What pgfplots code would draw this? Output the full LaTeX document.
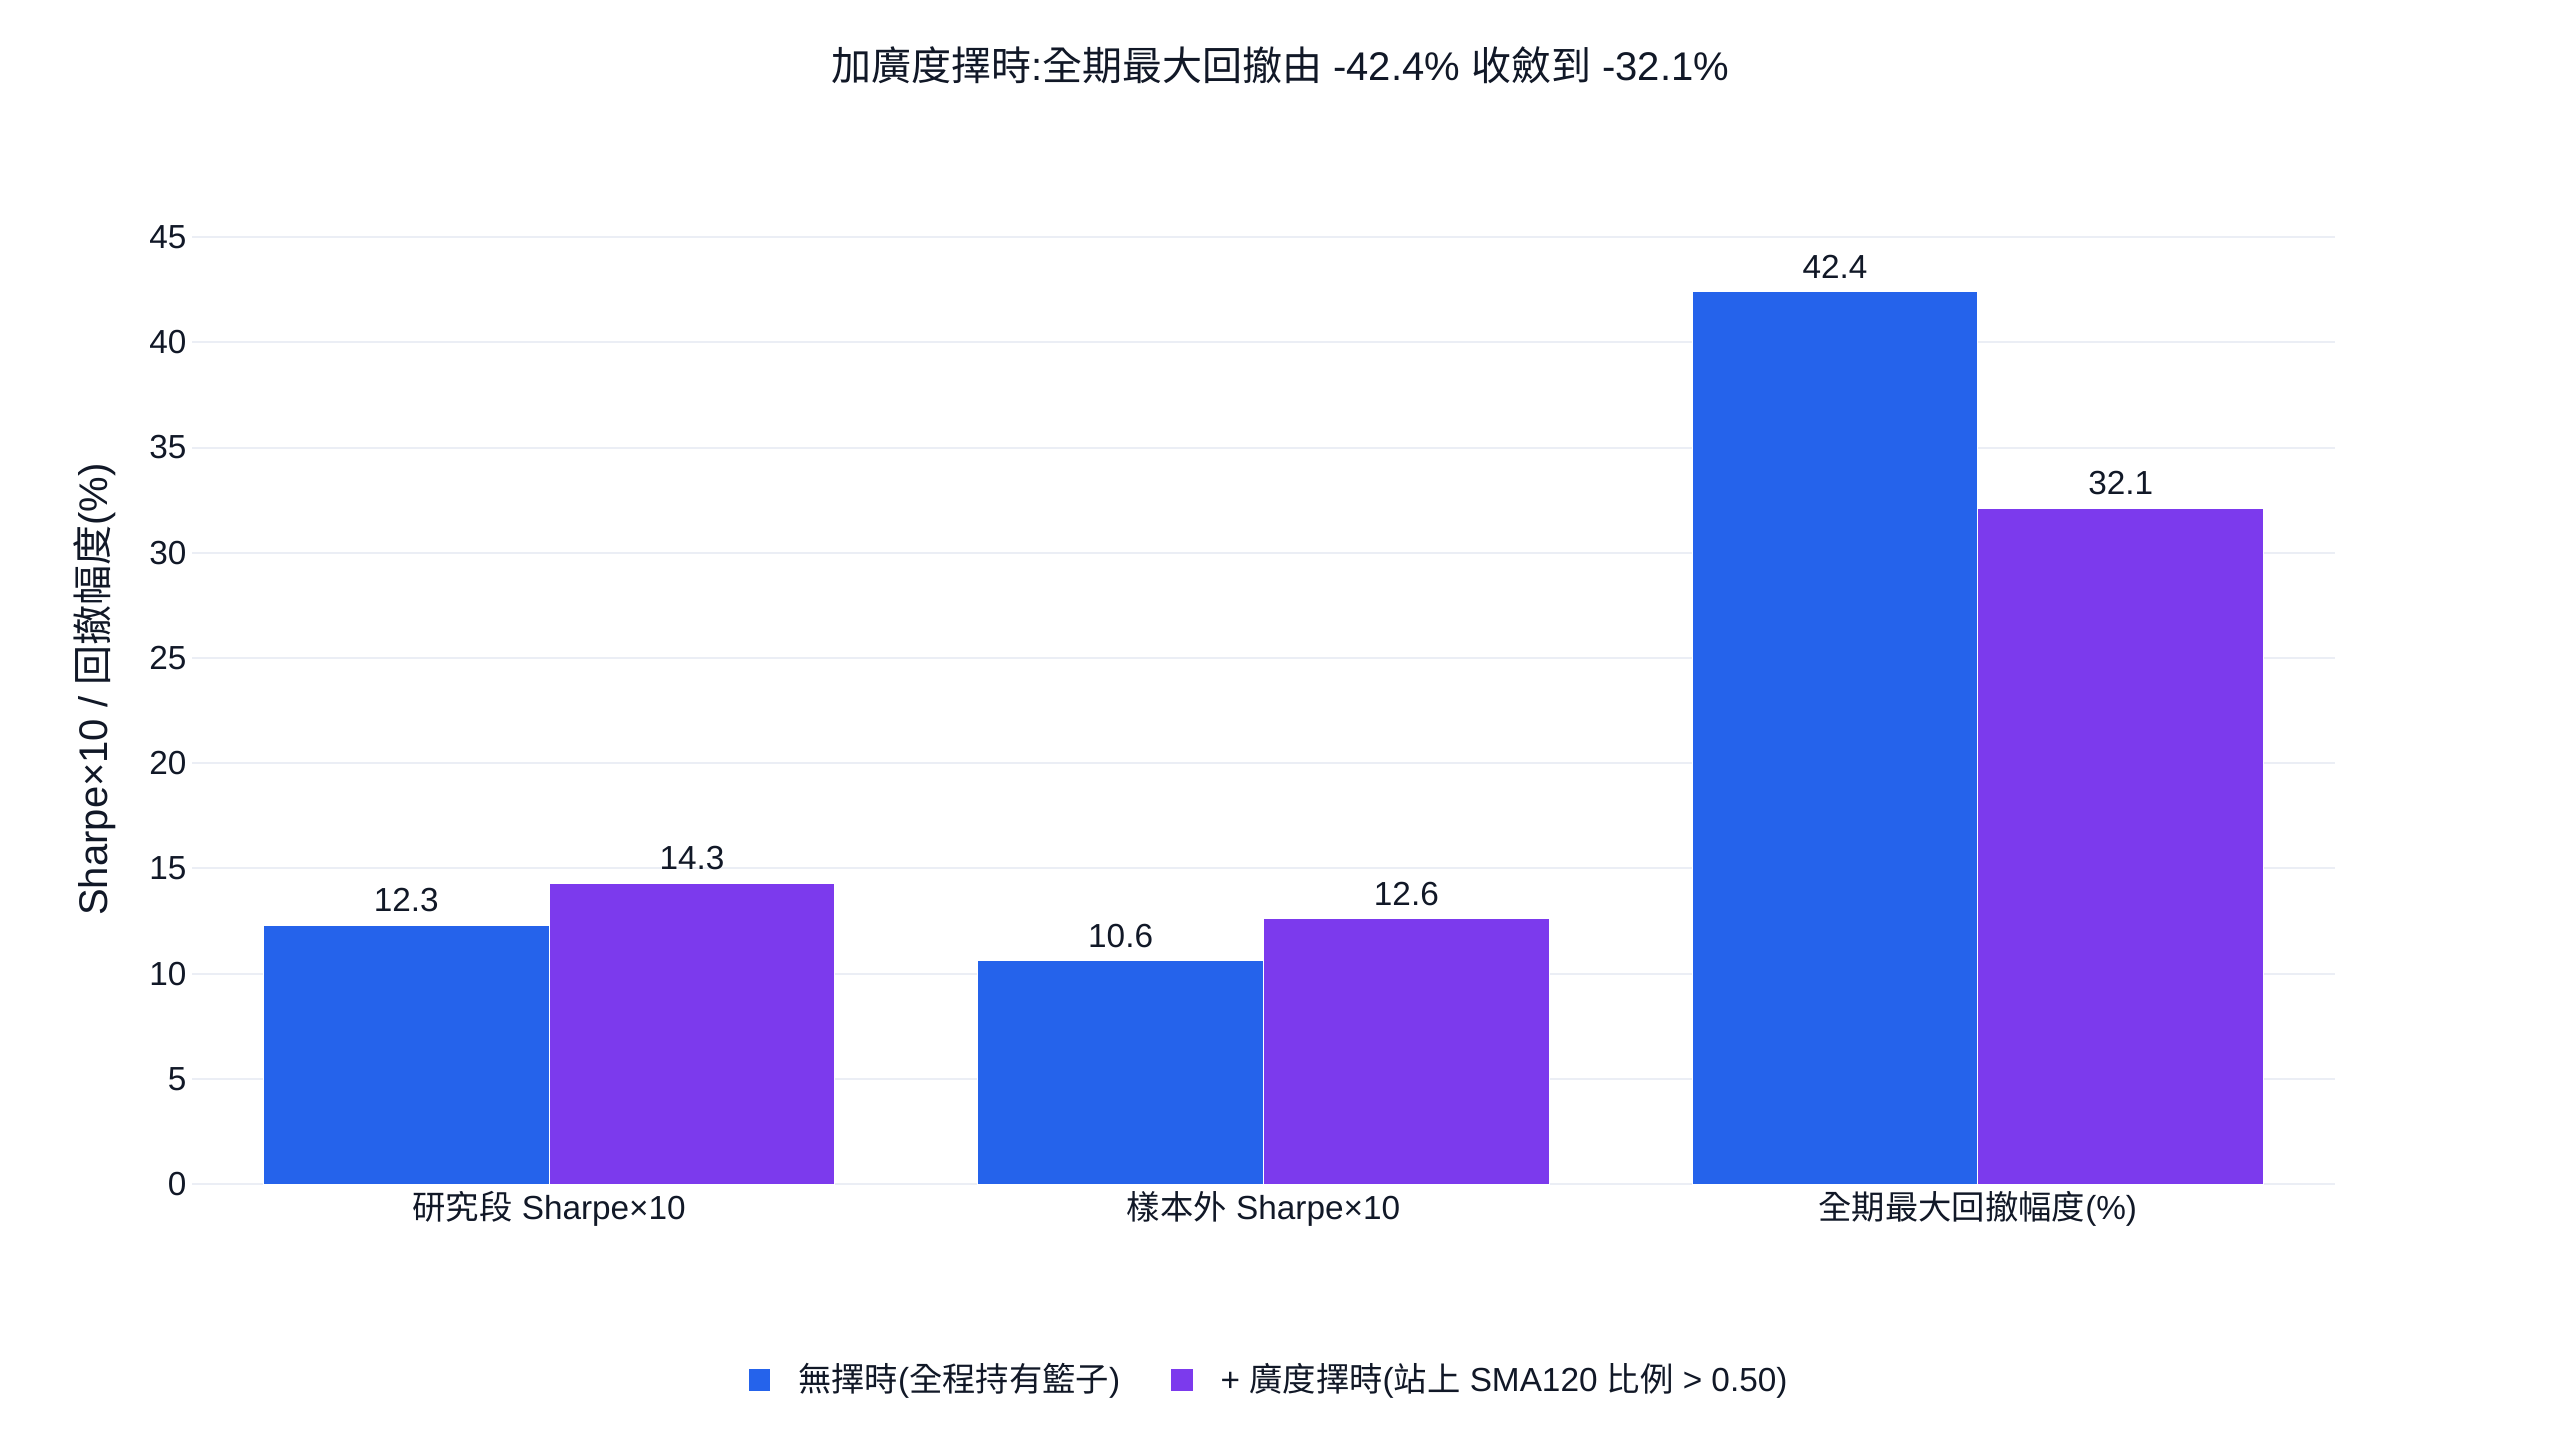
\documentclass[border=0pt]{standalone}
\usepackage{fontspec}
\setmainfont{Liberation Sans}
\newfontfamily\cjk{Noto Sans CJK TC}
\usepackage{pgfplots}
\pgfplotsset{compat=1.18}

\definecolor{barblue}{HTML}{2563EB}
\definecolor{barviolet}{HTML}{7C3AED}
\definecolor{ink}{HTML}{111827}
\definecolor{gridc}{HTML}{EBEEF5}

\begin{document}
\begin{tikzpicture}
\path[use as bounding box] (-57.6pt,-76.8pt) rectangle (710.4pt,355.2pt);
\begin{axis}[
    at={(0pt,0pt)}, anchor=south west,
    scale only axis,
    width=642.9pt, height=296.7pt,
    xmin=-0.5, xmax=2.5,
    ymin=0, ymax=47,
    ybar=0pt, bar width=0.4,
    axis line style={draw=none},
    major tick length=0pt,
    ytick={0,5,...,45},
    ymajorgrids,
    grid style={gridc, line width=0.6pt},
    xtick={0,1,2},
    xticklabels={
        {{\cjk 研究段} Sharpe×10},
        {{\cjk 樣本外} Sharpe×10},
        {{\cjk 全期最大回撤幅度}(\%)}},
    /pgf/number format/assume math mode=true,
    tick label style={font=\fontsize{10}{12}\selectfont, text=ink},
    yticklabel style={inner sep=1.5pt},
    xticklabel style={yshift=1.4pt},
    title={{\cjk 加廣度擇時}:{\cjk 全期最大回撤由} -42.4\% {\cjk 收斂到} -32.1\%},
    % the default title style already shifts up by 6pt
    title style={at={(0.5077,1.1113)}, anchor=center,
        font=\fontsize{12}{14}\selectfont, text=ink},
    ylabel={Sharpe×10 / {\cjk 回撤幅度}(\%)},
    ylabel style={at={(-0.0453,0.5)}, anchor=center,
        font=\fontsize{12}{14}\selectfont, text=ink},
    nodes near coords={\pgfmathprintnumber[fixed,fixed zerofill,precision=1]{\pgfplotspointmeta}},
    nodes near coords style={font=\fontsize{10}{12}\selectfont, text=ink, yshift=0.5pt},
    legend columns=2,
    legend style={at={(0.5035,-0.198)}, anchor=center, draw=none,
        font=\fontsize{10}{12}\selectfont, text=ink,
        /tikz/every odd column/.append style={column sep=6pt},
        /tikz/every even column/.append style={column sep=13pt}},
    legend image code/.code={\fill[#1] (0pt,-3.4pt) rectangle (6.8pt,3.4pt);},
]
\addplot[fill=barblue, draw=white, line width=0.3pt] coordinates {
    (0, 12.3)
    (1, 10.6)
    (2, 42.4)
};
\addlegendentry{{\cjk 無擇時}({\cjk 全程持有籃子})}
\addplot[fill=barviolet, draw=white, line width=0.3pt] coordinates {
    (0, 14.3)
    (1, 12.6)
    (2, 32.1)
};
\addlegendentry{+ {\cjk 廣度擇時}({\cjk 站上} SMA120 {\cjk 比例} > 0.50)}
\end{axis}
\end{tikzpicture}
\end{document}
